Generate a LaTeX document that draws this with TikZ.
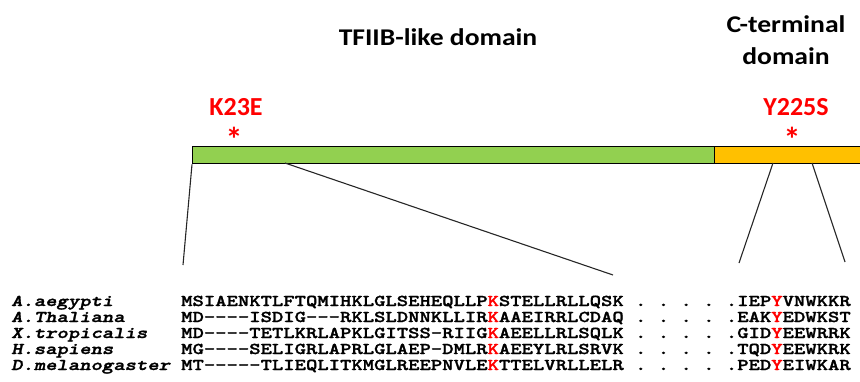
\documentclass[tikz,border=0pt]{standalone}
\usepackage{fontspec}
\newfontfamily\domfont{Carlito}
\newfontfamily\widefont[FakeStretch=1.15]{Carlito}
\newfontfamily\seqfont{lmmonolt10-bold}[Extension=.otf,ItalicFont=lmmonolt10-boldoblique,FakeStretch=1.31,FakeBold=1.6,Ligatures=TeXOff]
\definecolor{tfgreen}{HTML}{92D050}
\definecolor{ctorange}{HTML}{FFC000}

\begin{document}
\begin{tikzpicture}[x=1pt,y=-1pt,
  domlabel/.style={font=\widefont\bfseries\fontsize{24}{32}\selectfont,align=center,inner sep=0pt},
  mutlabel/.style={text=red,font=\domfont\bfseries\fontsize{26}{30}\selectfont,inner sep=0pt,anchor=base},
  starlabel/.style={text=red,font=\domfont\bfseries\fontsize{34}{34}\selectfont,inner sep=0pt,anchor=base},
  seqtext/.style={anchor=base west,inner sep=0pt,font=\seqfont\fontsize{16.5}{17}\selectfont},
  orgname/.style={anchor=base west,inner sep=0pt,font=\seqfont\itshape\fontsize{16.5}{17}\selectfont},
  domainbar/.style={draw,line width=1.4pt,inner sep=0pt,anchor=north west,minimum height=17pt},
  zoomline/.style={line width=1.1pt,black!85}]
\useasboundingbox (0,0) rectangle (860,381);
\clip (0,0) rectangle (860,381);

\node[domlabel,anchor=base] (tfiiblab) at (438,45) {TFIIB-like domain};
\node[domlabel] (ctermlab) at (786,40) {C-terminal\\domain};
\node[mutlabel] (k23e) at (236,115) {K23E};
\node[mutlabel] (y225s) at (796,115) {Y225S};
\node[starlabel] (k23estar) at (234,151) {*};
\node[starlabel] (y225sstar) at (792,151) {*};

\node[domainbar,fill=ctorange,minimum width=160pt] (cterm) at (714,146) {};
\node[domainbar,fill=tfgreen,minimum width=522pt] (tfiib) at (192,146) {};

\coordinate (n1) at (tfiib.south west);
\coordinate (n2) at (285,163);
\coordinate (n3) at (773,163);
\coordinate (n4) at (812,163);
\coordinate (m1) at (183,265);
\coordinate (m2) at (613,275);
\coordinate (m3) at (739,263);
\coordinate (m4) at (845,262);
\draw[zoomline] (n1) -- (m1);
\draw[zoomline] (n2) -- (m2);
\draw[zoomline] (n3) -- (m3);
\draw[zoomline] (n4) -- (m4);

\foreach \org/\nta/\ntb/\cta/\ctb [count=\i] in {
  A.aegypti/MSIAENKTLFTQMIHKLGLSEHEQLLP/STELLRLLQSK/IEP/VNWKKR,
  A.Thaliana/MD----ISDIG---RKLSLDNNKLLIR/AAEIRRLCDAQ/EAK/EDWKST,
  X.tropicalis/MD----TETLKRLAPKLGITSS-RIIG/AEELLRLSQLK/GID/EEWRRK,
  H.sapiens/MG----SELIGRLAPRLGLAEP-DMLR/AEEYLRLSRVK/TQD/EEWKRK,
  D.melanogaster/MT-----TLIEQLITKMGLREEPNVLE/TTELVRLLELR/PED/EIWKAR}
{
  \node[orgname] (org\i) at (11,{290+16*\i}) {\org};
  \node[seqtext] (seq\i) at (181,{290+16*\i}) {\nta\textcolor{red}{K}\ntb\ .\ .\ .\ .\ .\cta\textcolor{red}{Y}\ctb};
}
\end{tikzpicture}
\end{document}
